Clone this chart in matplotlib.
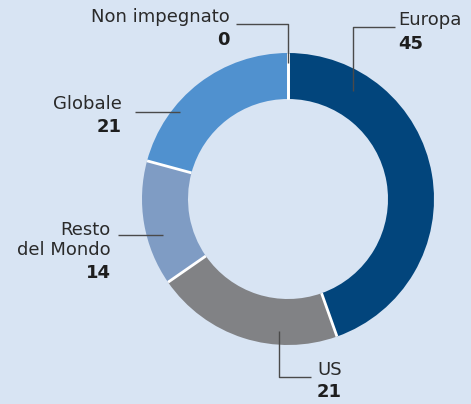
import matplotlib
matplotlib.use("Agg")
import matplotlib.pyplot as plt
import numpy as np

labels = ["Europa", "US", "Resto del Mondo", "Globale", "Non impegnato"]
values = [45, 21, 14, 21, 0]
colors = ["#02457c", "#818285", "#7f9cc4", "#5091cf", "#5091cf"]

W, H = 471, 404
BG = "#d8e4f3"
TXT = "#2a2a2a"
LN = "#4a4a4a"


def py(y):
    # pixel y (from top) -> data y
    return H - y


fig = plt.figure(figsize=(W / 100, H / 100), dpi=100)
fig.patch.set_facecolor(BG)
ax = fig.add_axes([0, 0, 1, 1])

cx, cy, R, w = 288, py(199), 146, 46
wedges, _ = ax.pie(values, colors=colors, radius=R, center=(cx, cy), startangle=90,
                   counterclock=False, frame=True,
                   wedgeprops=dict(width=w, linewidth=0))
# white separators between wedges
for wd in wedges:
    a = np.deg2rad(wd.theta1)
    ax.plot([cx + (R - w) * np.cos(a), cx + R * np.cos(a)],
            [cy + (R - w) * np.sin(a), cy + R * np.sin(a)],
            color="white", lw=2, solid_capstyle="butt")
ax.set_xlim(0, W)
ax.set_ylim(0, H)
ax.set_aspect("equal")
ax.axis("off")

fs = 13
# (label, value, text x, name y, value y, align, leader path in pixels)
annots = [
    ("Non impegnato", values[4], 230, 17, 40, "right", [(236, 24), (288, 24), (288, 63)]),
    ("Europa", values[0], 398, 20, 44, "left", [(395, 27), (353, 27), (353, 91)]),
    ("Globale", values[3], 122, 104, 127, "right", [(135, 112), (180, 112)]),
    ("Resto\ndel Mondo", values[2], 111, 240, 273, "right", [(118, 235), (163, 235)]),
    ("US", values[1], 317, 370, 392, "left", [(279, 331), (279, 377), (311, 377)]),
]
for name, val, x, yn, yv, ha, path in annots:
    ax.text(x, py(yn), name, ha=ha, va="center", fontsize=fs, color=TXT,
            linespacing=1.1)
    ax.text(x, py(yv), str(val), ha=ha, va="center", fontsize=fs, color="#1e1e1e",
            fontweight="bold")
    xs = [p[0] for p in path]
    ys = [py(p[1]) for p in path]
    ax.plot(xs, ys, color=LN, lw=1.0, solid_capstyle="butt")

fig.savefig("out.png", dpi=100, facecolor=BG)
